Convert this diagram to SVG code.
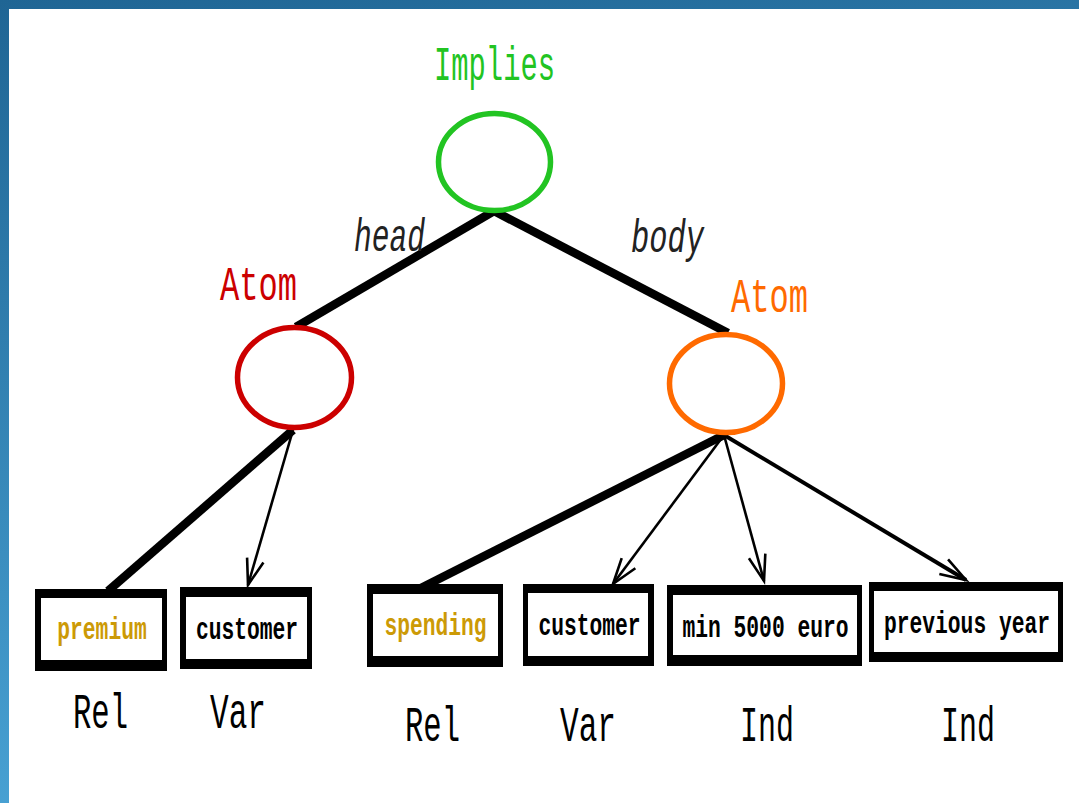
<svg xmlns="http://www.w3.org/2000/svg" width="1079" height="803" viewBox="0 0 1079 803">
  <defs>
    <linearGradient id="frame" x1="0" y1="0" x2="0.25" y2="1">
      <stop offset="0" stop-color="#1f6594"/>
      <stop offset="1" stop-color="#4aa4d6"/>
    </linearGradient>
    <marker id="vhead" markerUnits="userSpaceOnUse" markerWidth="40" markerHeight="30" refX="0" refY="0" viewBox="-30 -15 40 30" orient="auto" overflow="visible">
      <path d="M-26,-8.5 L0,0 L-26,8.5" fill="none" stroke="#000" stroke-width="2.6" stroke-linejoin="miter"/>
    </marker>
    <style>
      .mono { font-family: "Liberation Mono", "DejaVu Sans Mono", monospace; }
      .thick { stroke: #000; stroke-width: 8.5; fill: none; stroke-linecap: butt; }
      .thin { stroke: #000; stroke-width: 2.6; fill: none; marker-end: url(#vhead); }
      .ell { fill: #fff; stroke-width: 5.5; }
      .boxout { fill: #000; }
      .boxin { fill: #fff; }
      .boxtxt { font-size: 21.3px; text-anchor: middle; font-weight: bold; }
      .kind { font-size: 50px; fill: #000; }
      .title { font-size: 49px; }
      .edge { font-size: 47px; font-style: italic; fill: #222; }
    </style>
  </defs>

  <rect x="0" y="0" width="1079" height="803" fill="url(#frame)"/>
  <rect x="9" y="9" width="1070" height="794" fill="#fff"/>

  <g id="connectors">
    <line class="thick" x1="494" y1="211" x2="296" y2="327"/>
    <line class="thick" x1="494" y1="211" x2="728" y2="333"/>
    <line class="thick" x1="293" y1="430" x2="108" y2="591"/>
    <line class="thin" x1="293" y1="430" x2="248" y2="585"/>
    <line class="thick" x1="724" y1="435" x2="417" y2="590"/>
    <line class="thin" x1="724" y1="435" x2="613" y2="584"/>
    <line class="thin" x1="724" y1="435" x2="764" y2="581"/>
    <line class="thin" x1="724" y1="435" x2="966" y2="580" style="stroke-width:4"/>
    <text class="mono edge" x="354" y="251" textLength="71" lengthAdjust="spacingAndGlyphs">head</text>
    <text class="mono edge" x="631" y="252" textLength="73" lengthAdjust="spacingAndGlyphs">body</text>
  </g>

  <g id="implies">
    <text class="mono title" x="434" y="80" fill="#22c422" textLength="121" lengthAdjust="spacingAndGlyphs">Implies</text>
    <ellipse class="ell" cx="494.5" cy="162" rx="56" ry="48.5" stroke="#22c422"/>
  </g>

  <g id="atom-head">
    <text class="mono title" x="220" y="300" fill="#cc0000" textLength="77" lengthAdjust="spacingAndGlyphs">Atom</text>
    <ellipse class="ell" cx="294.5" cy="377.5" rx="57" ry="50" stroke="#cc0000"/>
  </g>

  <g id="atom-body">
    <text class="mono title" x="731" y="312" fill="#ff6a00" textLength="77" lengthAdjust="spacingAndGlyphs">Atom</text>
    <ellipse class="ell" cx="726" cy="383.5" rx="56.5" ry="49" stroke="#ff6a00"/>
  </g>

  <g id="premium">
    <rect class="boxout" x="35" y="589" width="132" height="82"/>
    <rect class="boxin" x="41" y="598" width="121" height="62"/>
    <text class="mono boxtxt" transform="translate(102,639) scale(1,1.5)" fill="#cc9a06">premium</text>
    <text class="mono kind" x="73" y="728" textLength="55" lengthAdjust="spacingAndGlyphs">Rel</text>
  </g>

  <g id="customer-head">
    <rect class="boxout" x="180" y="587" width="132" height="82"/>
    <rect class="boxin" x="186" y="597" width="121" height="62"/>
    <text class="mono boxtxt" transform="translate(247,639) scale(1,1.5)" fill="#000">customer</text>
    <text class="mono kind" x="210" y="728" textLength="56" lengthAdjust="spacingAndGlyphs">Var</text>
  </g>

  <g id="spending">
    <rect class="boxout" x="367" y="584" width="136" height="83"/>
    <rect class="boxin" x="373" y="594" width="125" height="62"/>
    <text class="mono boxtxt" transform="translate(435.5,635) scale(1,1.5)" fill="#cc9a06">spending</text>
    <text class="mono kind" x="405" y="741" textLength="55" lengthAdjust="spacingAndGlyphs">Rel</text>
  </g>

  <g id="customer-body">
    <rect class="boxout" x="523" y="584" width="131" height="82"/>
    <rect class="boxin" x="528" y="593" width="120" height="63"/>
    <text class="mono boxtxt" transform="translate(589.5,635) scale(1,1.5)" fill="#000">customer</text>
    <text class="mono kind" x="560" y="741" textLength="56" lengthAdjust="spacingAndGlyphs">Var</text>
  </g>

  <g id="min-5000">
    <rect class="boxout" x="667" y="585" width="195" height="81"/>
    <rect class="boxin" x="673" y="595" width="184" height="60"/>
    <text class="mono boxtxt" transform="translate(765.5,637) scale(1,1.5)" fill="#000">min 5000 euro</text>
    <text class="mono kind" x="740" y="741" textLength="54" lengthAdjust="spacingAndGlyphs">Ind</text>
  </g>

  <g id="previous-year">
    <rect class="boxout" x="869" y="582" width="194" height="80"/>
    <rect class="boxin" x="874" y="591" width="184" height="61"/>
    <text class="mono boxtxt" transform="translate(967,633) scale(1,1.5)" fill="#000">previous year</text>
    <text class="mono kind" x="941" y="741" textLength="54" lengthAdjust="spacingAndGlyphs">Ind</text>
  </g>
</svg>
